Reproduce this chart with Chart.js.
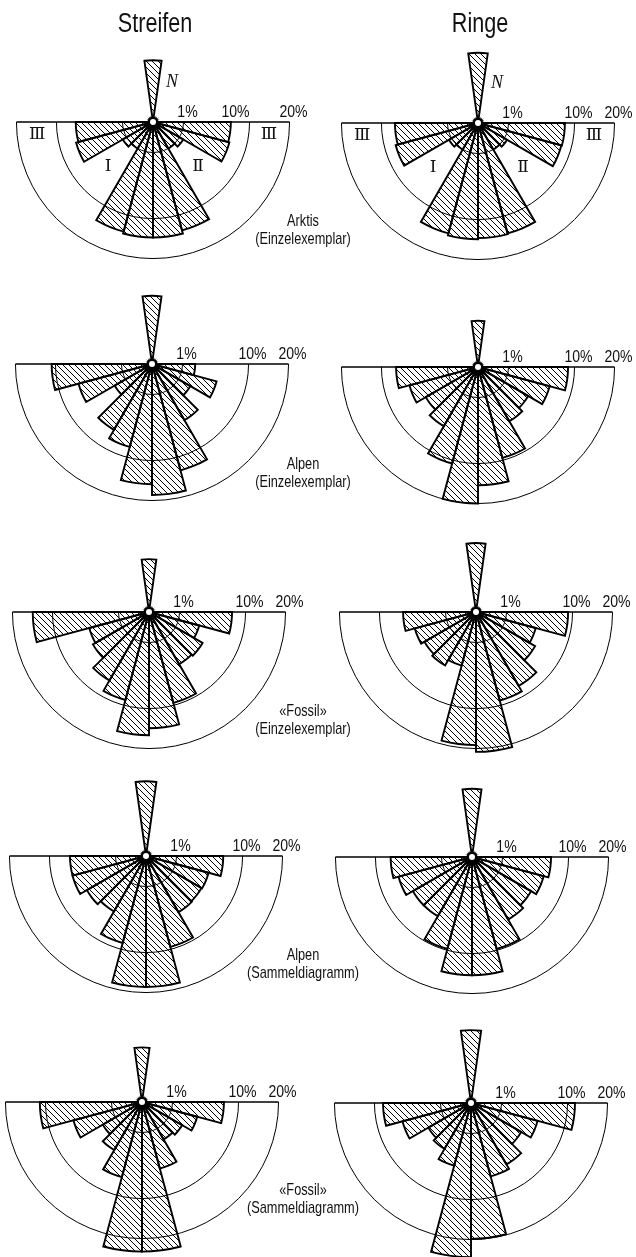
<!DOCTYPE html>
<html lang="de">
<head>
<meta charset="utf-8">
<title>Streifen und Ringe – Richtungsrosen</title>
<script src="https://cdn.jsdelivr.net/npm/chart.js@4.4.1/dist/chart.umd.min.js"></script>
<style>
  html, body { margin: 0; background: #fff; }
  #page { position: relative; width: 636px; height: 1257px; overflow: hidden; }
  #page canvas { position: absolute; }
  .txt {
    position: absolute; white-space: nowrap; text-align: center;
    font-family: "Liberation Sans", Arial, sans-serif; color: #111;
  }
  .head { font-size: 27px; line-height: 30px; transform: translateX(-50%) scaleX(0.8); }
  .cap { font-size: 17px; line-height: 18px; transform: translateX(-50%) scaleX(0.75); }
</style>
</head>
<body>
<div id="page"></div>
<script>
/* Sektoren zu 15° im Uhrzeigersinn: Ost -> Süd -> West, letzter Wert = N-Sektor */
const SECTORS = [
  "90–105°", "105–120°", "120–135°", "135–150°", "150–165°", "165–180°",
  "180–195°", "195–210°", "210–225°", "225–240°", "240–255°", "255–270°",
];
const RINGS = [1, 10, 20];
const RING_LABELS = ["1%", "10%", "20%"];

// Häufigkeiten in %
const arktisStreifen       = [6.5, 6.7, 1.3, 1.0, 13.5, 14.3, 14.3, 13.8, 1.0, 1.3, 6.8, 6.4, 4.1];
const arktisRinge          = [8.1, 8.0, 1.2, 1.0, 14.0, 14.2, 14.5, 14.0, 1.0, 1.2, 7.8, 7.4, 5.3];
const alpenEinzelStreifen  = [2.0, 4.8, 2.1, 4.5, 13.0, 18.4, 15.5, 7.9, 6.2, 2.0, 6.2, 10.8, 5.0];
const alpenEinzelRinge     = [8.7, 5.9, 3.6, 4.2, 9.5, 15.0, 20.0, 10.7, 5.0, 3.9, 5.4, 7.2, 2.3];
const fossilEinzelStreifen = [7.4, 2.9, 4.1, 3.9, 9.5, 14.5, 16.3, 8.9, 6.7, 4.5, 4.1, 14.5, 3.0];
const fossilEinzelRinge    = [9.1, 4.1, 5.0, 7.8, 9.0, 21.0, 19.0, 3.3, 4.1, 3.8, 4.3, 5.7, 5.1];
const alpenSammelStreifen  = [6.4, 4.5, 4.4, 4.5, 9.5, 18.4, 18.4, 8.7, 4.4, 5.0, 6.2, 6.2, 6.0];
const alpenSammelRinge     = [6.7, 5.9, 5.0, 5.6, 9.7, 15.0, 15.0, 9.7, 5.0, 5.0, 6.2, 7.1, 5.0];
const fossilSammelStreifen = [7.2, 3.5, 2.3, 2.0, 5.1, 24.0, 24.0, 6.5, 3.3, 2.2, 5.4, 11.2, 3.2];
const fossilSammelRinge    = [11.6, 5.1, 3.6, 5.4, 6.2, 19.8, 25.5, 4.5, 3.0, 2.6, 5.4, 8.3, 5.7];

const CAPTIONS = [
  ["Arktis", "(Einzelexemplar)"],
  ["Alpen", "(Einzelexemplar)"],
  ["«Fossil»", "(Einzelexemplar)"],
  ["Alpen", "(Sammeldiagramm)"],
  ["«Fossil»", "(Sammeldiagramm)"],
];

/* ---- Layout ---- */
const SIZE = 340;          // Canvas je Rose
const RMAX = 31;           // Skalenende (Wurzelskala, 20% ~ 136 px)
const GAP = 12;            // Index des leeren Sektors zwischen W und N
const CAP_Y = [222, 465, 712, 956, 1191];
const PANELS = [
  { values: arktisStreifen, cx: 153, cy: 122, marks: true, tenLeft: true },
  { values: arktisRinge, cx: 478, cy: 123, marks: true },
  { values: alpenEinzelStreifen, cx: 152, cy: 364 },
  { values: alpenEinzelRinge, cx: 478, cy: 367 },
  { values: fossilEinzelStreifen, cx: 149, cy: 612 },
  { values: fossilEinzelRinge, cx: 476, cy: 612 },
  { values: alpenSammelStreifen, cx: 146, cy: 856 },
  { values: alpenSammelRinge, cx: 472, cy: 857 },
  { values: fossilSammelStreifen, cx: 142, cy: 1102 },
  { values: fossilSammelRinge, cx: 471, cy: 1103 },
];

/* flächentreue Rose: Radius ~ Wurzel des Prozentwerts */
class SqrtRadialScale extends Chart.RadialLinearScale {
  static id = "sqrtRadial";
  getDistanceFromCenterForValue(value) {
    if (value === null || value === undefined || isNaN(value)) return NaN;
    return this.drawingArea * Math.sqrt(Math.max(0, value - this.min) / (this.max - this.min));
  }
}
Chart.register(SqrtRadialScale);

/* Schraffur-Kachel */
const TILE = (() => {
  const s = 6, c = document.createElement("canvas");
  c.width = c.height = s;
  const g = c.getContext("2d");
  g.strokeStyle = "#000";
  g.lineWidth = 1;
  g.beginPath();
  g.moveTo(-1, -1); g.lineTo(s + 1, s + 1);
  g.moveTo(-1, s - 1); g.lineTo(1, s + 1);
  g.moveTo(s - 1, -1); g.lineTo(s + 1, 1);
  g.stroke();
  return c;
})();
const hatch = (chart) => chart.$hatch || (chart.$hatch = chart.ctx.createPattern(TILE, "repeat"));

// schmal gestauchter Text auf dem Canvas
function narrowText(ctx, txt, x, y, sx) {
  ctx.save();
  ctx.translate(x, y);
  ctx.scale(sx, 1);
  ctx.fillText(txt, 0, 0);
  ctx.restore();
}

/* Halbkreise, Achse, Beschriftung, Mittelpunkt */
const roseFrame = {
  id: "roseFrame",
  afterDatasetsDraw(chart, args, opts) {
    const s = chart.scales.r, ctx = chart.ctx;
    const cx = s.xCenter, cy = s.yCenter;
    const rr = (v) => s.getDistanceFromCenterForValue(v);
    ctx.save();
    ctx.strokeStyle = "#000";
    ctx.lineWidth = 1;
    RINGS.forEach((v) => {
      ctx.beginPath();
      ctx.arc(cx, cy, rr(v), 0, Math.PI);
      ctx.stroke();
    });
    ctx.lineWidth = 1.4;
    ctx.beginPath();
    ctx.moveTo(cx - rr(20), cy);
    ctx.lineTo(cx + rr(20), cy);
    ctx.stroke();

    ctx.fillStyle = "#111";
    ctx.font = "16px 'Liberation Sans', Arial, sans-serif";
    ctx.textAlign = "center";
    ctx.textBaseline = "alphabetic";
    RINGS.forEach((v, i) => {
      const x = v === 10 && opts.tenLeft ? cx + rr(v) - 14 : cx + rr(v) + 4;
      narrowText(ctx, RING_LABELS[i], x, cy - 5, 0.88);
    });

    if (opts.marks) {
      ctx.font = "17px 'DejaVu Serif', 'Liberation Serif', serif";
      ctx.textBaseline = "middle";
      const r3 = (rr(10) + rr(20)) / 2, r12 = (rr(1) + rr(10)) / 2;
      const at = (txt, r, deg) => {
        const a = (deg * Math.PI) / 180;
        ctx.fillText(txt, cx + r * Math.cos(a), cy + r * Math.sin(a));
      };
      at("Ⅲ", r3, 6);
      at("Ⅲ", r3, 174);
      at("Ⅱ", r12, 45);
      at("Ⅰ", r12, 135);
      ctx.font = "italic 18px 'Liberation Serif', serif";
      ctx.fillText("N", cx + 19, cy - 40);
    }

    ctx.fillStyle = "#000";
    ctx.beginPath();
    ctx.arc(cx, cy, 5.5, 0, Math.PI * 2);
    ctx.fill();
    ctx.fillStyle = "#fff";
    ctx.beginPath();
    ctx.arc(cx, cy, 3, 0, Math.PI * 2);
    ctx.fill();
    ctx.restore();
  },
};

const page = document.getElementById("page");

function rose(p) {
  const cv = document.createElement("canvas");
  cv.width = SIZE;
  cv.height = SIZE;
  cv.style.left = p.cx - SIZE / 2 + "px";
  cv.style.top = p.cy - SIZE / 2 + "px";
  page.appendChild(cv);
  const data = [...p.values.slice(0, 12), 0, p.values[12]];
  return new Chart(cv, {
    type: "polarArea",
    data: {
      labels: [...SECTORS, "", "N"],
      datasets: [
        {
          data,
          backgroundColor: (c) => (c.dataIndex === GAP ? "rgba(0,0,0,0)" : hatch(c.chart)),
          borderColor: "#000",
          borderWidth: (c) => (c.dataIndex === GAP ? 0 : 1.9),
          borderJoinStyle: "miter",
          angle: (c) => (c.dataIndex < GAP ? 15 : c.dataIndex === GAP ? 82 : 16),
        },
      ],
    },
    options: {
      responsive: false,
      animation: false,
      events: [],
      layout: { padding: 0 },
      plugins: {
        legend: { display: false },
        tooltip: { enabled: false },
        roseFrame: { marks: !!p.marks, tenLeft: !!p.tenLeft },
      },
      scales: {
        r: {
          type: "sqrtRadial",
          min: 0,
          max: RMAX,
          startAngle: 90,
          ticks: { display: false },
          grid: { display: false },
          angleLines: { display: false },
          pointLabels: { display: false },
        },
      },
    },
    plugins: [roseFrame],
  });
}

function text(cls, str, x, y) {
  const d = document.createElement("div");
  d.className = "txt " + cls;
  d.textContent = str;
  d.style.left = x + "px";
  d.style.top = y + "px";
  page.appendChild(d);
}

PANELS.forEach(rose);

text("head", "Streifen", 155, 8);
text("head", "Ringe", 480, 8);
CAPTIONS.forEach(([a, b], i) => {
  text("cap", a, 303, CAP_Y[i] - 10);
  text("cap", b, 303, CAP_Y[i] + 8);
});
</script>
</body>
</html>
